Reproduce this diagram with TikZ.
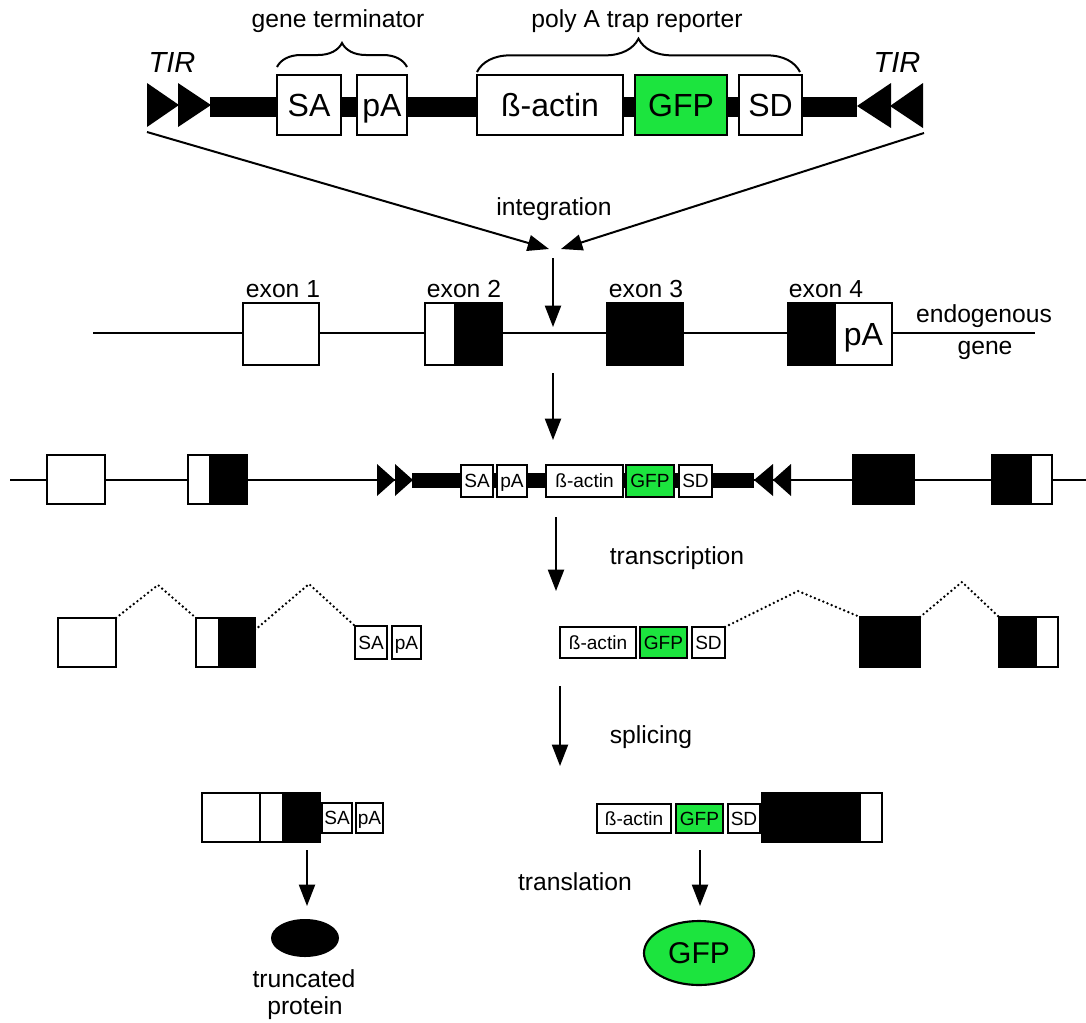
\documentclass[tikz,border=0pt]{standalone}
\usepackage{fontspec}
\setmainfont{Liberation Sans}
\usetikzlibrary{fit,arrows.meta,shapes.geometric,decorations.pathreplacing}
\definecolor{gfpgreen}{RGB}{28,228,62}
\begin{document}
\begin{tikzpicture}[x=0.75pt,y=-0.75pt,
  bx/.style={draw, line width=1.6pt, fill=white, inner sep=0pt, outer sep=0pt},
  blk/.style={bx, fill=black},
  grn/.style={bx, fill=gfpgreen},
  big/.style={label={[font=\fontsize{24}{26}\selectfont, inner sep=0pt, text depth=0pt]center:#1}},
  sml/.style={label={[font=\fontsize{14.3}{16}\selectfont, inner sep=0pt, text depth=0pt]center:#1}},
  lbl/.style={font=\fontsize{18.5}{21}\selectfont, inner sep=0pt, anchor=base},
  tir/.style={font=\fontsize{21.8}{24}\selectfont\itshape, inner sep=0pt, anchor=base},
  arr/.style={line width=1.5pt, -{Triangle[length=16pt,width=12pt]}},
  gline/.style={line width=1.5pt},
  dots/.style={line width=2pt, line cap=round, dash pattern=on 0pt off 3.4pt},
  brc/.style={line width=1.5pt, decorate, decoration={brace, amplitude=#1}},
]
\useasboundingbox (0,0) rectangle (1086,1022);

% ---------------- top: construct ----------------
\node[lbl] (gtlab) at (338,27) {gene terminator};
\node[lbl] (prlab) at (637,27) {poly A trap reporter};
\node[tir] (tirLlab) at (172,72) {TIR};
\node[tir] (tirRlab) at (897,72) {TIR};
\draw[brc=18pt] (277,67) -- (407,67);
\draw[brc=25pt] (477,72) -- (800,72);

\fill (210,97) rectangle (857,117);
\fill (147,83) -- (179,105) -- (147,127) -- cycle;
\fill (178,83) -- (211,105) -- (178,127) -- cycle;
\fill (891,83) -- (857,106) -- (891,128) -- cycle;
\fill (923,83) -- (890,106) -- (923,128) -- cycle;

\node[bx,big=SA,fit={(277,75)(341,135)}] (tSA) {};
\node[bx,big=pA,fit={(357,75)(407,135)}] (tpA) {};
\node[bx,big=ß-actin,fit={(477,75)(623,135)}] (tact) {};
\node[grn,big=GFP,fit={(635,75)(727,135)}] (tGFP) {};
\node[bx,big=SD,fit={(739,75)(802,135)}] (tSD) {};

% integration arrows
\coordinate (tirL) at (147,132);
\coordinate (tirR) at (924,133);
\coordinate (insL) at (549,249);
\coordinate (insR) at (561,249);
\draw[arr] (tirL) -- (insL);
\draw[arr] (tirR) -- (insR);
\node[lbl] (integ) at (554,215) {integration};

\coordinate (a1s) at (553,258);
\coordinate (a1e) at (553,327);
\draw[arr] (a1s) -- (a1e);

% ---------------- row 2: endogenous gene ----------------
\coordinate (g2L) at (93,333);
\coordinate (g2R) at (1035,333);
\draw[gline] (g2L) -- (g2R);
\node[bx,fit={(243,303)(319,365)}] (r2e1) {};
\node[bx,fit={(425,303)(455,365)}] (r2e2a) {};
\node[blk,fit={(455,303)(502,365)}] (r2e2b) {};
\node[blk,fit={(607,303)(683,365)}] (r2e3) {};
\node[blk,fit={(788,303)(835,365)}] (r2e4a) {};
\node[bx,big=pA,fit={(835,303)(892,365)}] (r2e4b) {};
\node[lbl] (ex1) at (283,297) {exon 1};
\node[lbl] (ex2) at (464,297) {exon 2};
\node[lbl] (ex3) at (646,297) {exon 3};
\node[lbl] (ex4) at (826,297) {exon 4};
\node[lbl] (endo) at (984,322) {endogenous};
\node[lbl] (gene) at (985,354) {gene};

\coordinate (a2s) at (553,373);
\coordinate (a2e) at (553,440);
\draw[arr] (a2s) -- (a2e);

% ---------------- row 3: integrated ----------------
\coordinate (g3L) at (10,480);
\coordinate (g3R) at (1086,480);
\draw[gline] (g3L) -- (g3R);
\node[bx,fit={(47,455)(105,504)}] (r3e1) {};
\node[bx,fit={(188,455)(210,504)}] (r3e2a) {};
\node[blk,fit={(210,455)(247,504)}] (r3e2b) {};
\fill (412,473) rectangle (754,488);
\fill (377,464) -- (395,480) -- (377,496) -- cycle;
\fill (395,464) -- (413,480) -- (395,496) -- cycle;
\fill (773,464) -- (754,480) -- (773,496) -- cycle;
\fill (791,464) -- (773,480) -- (791,496) -- cycle;
\node[bx,sml=SA,fit={(461,465)(493,497)}] (r3SA) {};
\node[bx,sml=pA,fit={(497,465)(527,497)}] (r3pA) {};
\node[bx,sml=ß-actin,fit={(546,465)(623,497)}] (r3act) {};
\node[grn,sml=GFP,fit={(626,465)(674,497)}] (r3GFP) {};
\node[bx,sml=SD,fit={(679,465)(712,497)}] (r3SD) {};
\node[blk,fit={(853,455)(914,504)}] (r3e3) {};
\node[blk,fit={(992,455)(1031,504)}] (r3e4a) {};
\node[bx,fit={(1031,455)(1052,504)}] (r3e4b) {};

\coordinate (a3s) at (556,517);
\coordinate (a3e) at (556,591);
\draw[arr] (a3s) -- (a3e);
\node[lbl] (transc) at (677,564) {transcription};

% ---------------- row 4: transcripts ----------------
\node[bx,fit={(58,618)(116,667)}] (r4e1) {};
\node[bx,fit={(196,618)(219,667)}] (r4e2a) {};
\node[blk,fit={(219,618)(255,667)}] (r4e2b) {};
\node[bx,sml=SA,fit={(355,626)(387,659)}] (r4SA) {};
\node[bx,sml=pA,fit={(392,626)(421,659)}] (r4pA) {};
\node[bx,sml=ß-actin,fit={(560,627)(636,658)}] (r4act) {};
\node[grn,sml=GFP,fit={(640,627)(687,658)}] (r4GFP) {};
\node[bx,sml=SD,fit={(692,627)(725,658)}] (r4SD) {};
\node[blk,fit={(860,617)(920,667)}] (r4e3) {};
\node[blk,fit={(999,617)(1036,667)}] (r4e4a) {};
\node[bx,fit={(1036,617)(1058,667)}] (r4e4b) {};
\draw[dots] (r4e1.north east) -- (158,585) -- (r4e2a.north west);
\draw[dots] (r4e2b.35) -- (309,584) -- (r4SA.north west);
\draw[dots] (r4SD.north east) -- (798,591) -- (r4e3.north west);
\draw[dots] (r4e3.north east) -- (962,582) -- (r4e4a.north west);

\coordinate (a4s) at (560,686);
\coordinate (a4e) at (560,766);
\draw[arr] (a4s) -- (a4e);
\node[lbl] (splic) at (651,743) {splicing};

% ---------------- row 5: spliced mRNAs ----------------
\node[bx,fit={(202,793)(260,842)}] (r5a) {};
\node[bx,fit={(260,793)(283,842)}] (r5b) {};
\node[blk,fit={(283,793)(320,842)}] (r5c) {};
\node[bx,sml=SA,fit={(322,803)(352,833)}] (r5SA) {};
\node[bx,sml=pA,fit={(356,803)(383,833)}] (r5pA) {};
\node[bx,sml=ß-actin,fit={(597,804)(671,833)}] (r5act) {};
\node[grn,sml=GFP,fit={(676,804)(723,833)}] (r5GFP) {};
\node[bx,sml=SD,fit={(728,804)(760,833)}] (r5SD) {};
\node[blk,fit={(762,793)(860,842)}] (r5e) {};
\node[bx,fit={(860,793)(882,842)}] (r5f) {};

\coordinate (a5s) at (307,850);
\coordinate (a5e) at (307,906);
\draw[arr] (a5s) -- (a5e);
\coordinate (a6s) at (700,850);
\coordinate (a6e) at (700,906);
\draw[arr] (a6s) -- (a6e);
\node[lbl] (transl) at (575,890) {translation};

\node[ellipse, fill=black, minimum width=51pt, minimum height=28.5pt, inner sep=0pt] (trunc) at (305,938) {};
\node[ellipse, draw, line width=1.6pt, fill=gfpgreen, minimum width=82.5pt, minimum height=48pt, inner sep=0pt, font=\fontsize{22.5}{24}\selectfont] (gfpprot) at (699,953) {GFP};
\node[lbl] (tr1) at (304,987) {truncated};
\node[lbl] (tr2) at (305,1014) {protein};
\end{tikzpicture}
\end{document}
